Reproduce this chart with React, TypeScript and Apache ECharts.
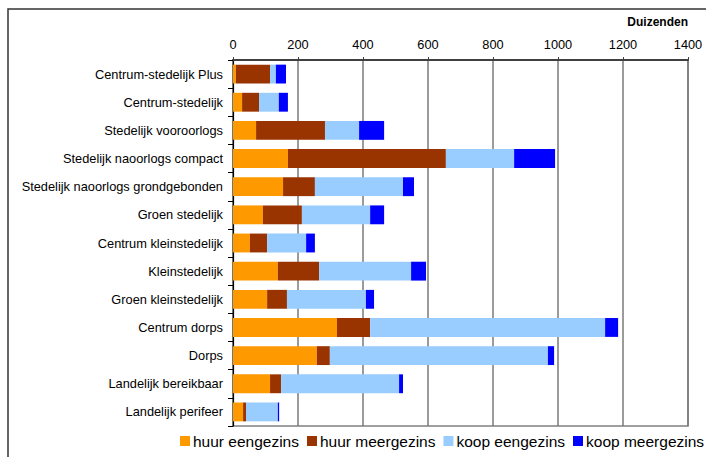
import React, { useEffect, useRef } from "react";
import * as echarts from "echarts";

// Woonmilieutypen (top to bottom)
const categories = [
  "Centrum-stedelijk Plus",
  "Centrum-stedelijk",
  "Stedelijk vooroorlogs",
  "Stedelijk naoorlogs compact",
  "Stedelijk naoorlogs grondgebonden",
  "Groen stedelijk",
  "Centrum kleinstedelijk",
  "Kleinstedelijk",
  "Groen kleinstedelijk",
  "Centrum dorps",
  "Dorps",
  "Landelijk bereikbaar",
  "Landelijk perifeer",
];

// Woningen in duizenden
const huurEengezins = [9, 28, 71, 169, 154, 92, 52, 138, 105, 320, 258, 114, 31];
const huurMeergezins = [105, 52, 212, 486, 98, 120, 53, 127, 61, 102, 40, 34, 9];
const koopEengezins = [18, 61, 105, 210, 271, 210, 120, 283, 243, 723, 671, 363, 98];
const koopMeergezins = [31, 28, 77, 126, 34, 43, 27, 46, 25, 40, 19, 12, 4];

const seriesNames = ["huur eengezins", "huur meergezins", "koop eengezins", "koop meergezins"];
const seriesColors = ["#FF9900", "#993300", "#99CCFF", "#0000FF"];
const seriesData = [huurEengezins, huurMeergezins, koopEengezins, koopMeergezins];

const FONT = "'Liberation Sans', Arial, sans-serif";

export default function App() {
  const ref = useRef<HTMLDivElement>(null);

  useEffect(() => {
    if (!ref.current) return;
    const chart = echarts.init(ref.current, undefined, { renderer: "svg" });
    chart.setOption({
      animation: false,
      backgroundColor: "#ffffff",
      textStyle: { fontFamily: FONT },
      grid: {
        left: 233,
        top: 60,
        width: 455,
        height: 366,
        show: true,
        borderColor: "#808080",
        borderWidth: 1.5,
      },
      legend: {
        left: 180,
        top: 433,
        width: 800,
        padding: 0,
        itemWidth: 10,
        itemHeight: 10,
        itemGap: 8,
        icon: "rect",
        textStyle: {
          fontSize: 15.5,
          color: "#000",
          fontFamily: FONT,
          padding: [0, 0, 0, -2],
        },
        data: seriesNames,
      },
      xAxis: {
        type: "value",
        position: "top",
        min: 0,
        max: 1400,
        interval: 200,
        axisLine: { show: true, lineStyle: { color: "#404040", width: 2 } },
        axisTick: { show: true, length: 3, lineStyle: { color: "#404040" } },
        axisLabel: {
          color: "#000",
          fontSize: 12.8,
          margin: 9,
          fontFamily: FONT,
          formatter: (v: number) => String(v),
        },
        splitLine: { show: true, lineStyle: { color: "#7a7a7a", width: 1.5 } },
      },
      yAxis: {
        type: "category",
        inverse: true,
        data: categories,
        axisLine: { show: true, lineStyle: { color: "#000", width: 1.2 } },
        axisTick: { show: true, length: 5, interval: 0, lineStyle: { color: "#000" } },
        axisLabel: { color: "#000", fontSize: 12.8, margin: 10, fontFamily: FONT, interval: 0 },
        splitLine: { show: false },
      },
      graphic: [
        {
          type: "rect",
          shape: { x: 8, y: 9, width: 760, height: 520 },
          style: { fill: "none", stroke: "#333", lineWidth: 1.5 },
          silent: true,
        },
        {
          type: "text",
          x: 688,
          y: 16,
          style: {
            text: "Duizenden",
            fontSize: 12,
            fontWeight: "bold",
            fill: "#000",
            fontFamily: FONT,
            textAlign: "right",
          },
        },
      ],
      series: seriesNames.map((name, i) => ({
        name,
        type: "bar",
        stack: "total",
        barCategoryGap: "33%",
        itemStyle: { color: seriesColors[i] },
        data: seriesData[i],
      })),
    });
    return () => chart.dispose();
  }, []);

  return (
    <div
      ref={ref}
      style={{ position: "fixed", left: 0, top: 0, width: 706, height: 457 }}
    />
  );
}
